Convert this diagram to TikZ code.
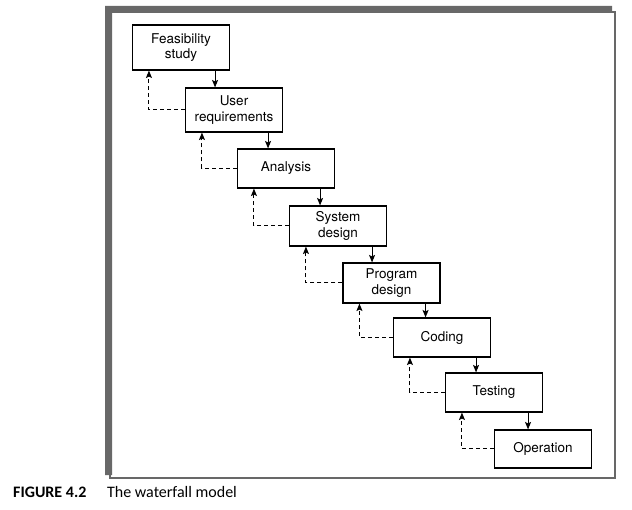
\documentclass[tikz,border=0pt]{standalone}
\usepackage{fontspec}
\setmainfont{TeX Gyre Heros}
\newfontfamily\capfont{Carlito}
\usetikzlibrary{arrows.meta,calc}
\definecolor{framegray}{RGB}{104,104,104}
\tikzset{
  stage/.style={draw=black, line width=1.1pt, rectangle, minimum width=97pt, align=center,
    inner sep=0pt, font=\fontsize{13.5}{15.5}\selectfont},
  flow/.style={line width=1pt, -{Stealth[length=7.5pt,width=6pt,inset=1.5pt]}},
  back/.style={line width=1pt, dash pattern=on 4pt off 3pt, -{Stealth[length=7.5pt,width=6pt,inset=1.5pt]}},
}
\begin{document}
\begin{tikzpicture}[x=1pt,y=-1pt]
\useasboundingbox (0,0) rectangle (632,510);
% frame
\fill[framegray] (105,6) -- (612,6) -- (612,13) -- (112,13) -- (112,475) -- (105,475) -- cycle;
\draw[framegray, line width=2.2pt] (110,12) rectangle (615,478);
% stages
\node[stage, minimum height=45pt] (b1) at (181,47.5) {Feasibility\\study};
\node[stage, minimum height=44pt] (b2) at (234,110) {User\\requirements};
\node[stage, minimum height=39pt] (b3) at (286,168.5) {Analysis};
\node[stage, minimum height=40pt] (b4) at (338,226) {System\\design};
\node[stage, minimum height=40pt] (b5) at (391.5,283) {Program\\design};
\node[stage, minimum height=39pt] (b6) at (442,337.5) {Coding};
\node[stage, minimum height=39pt] (b7) at (494,392.5) {Testing};
\node[stage, minimum height=38pt] (b8) at (543,449) {Operation};
% connectors
\foreach \a/\b in {b1/b2,b2/b3,b3/b4,b4/b5,b5/b6,b6/b7,b7/b8}{
  \draw[flow] ([xshift=-15pt]\a.south east) -- ([xshift=-15pt]\a.south east |- \b.north);
  \draw[back] (\b.west) -| ([xshift=17pt]\a.south west);
}
% caption
\node[anchor=base west, inner sep=0pt, font=\capfont\fontsize{16}{19}\selectfont\bfseries] (fig) at (13,497) {FIGURE 4.2};
\node[anchor=base west, inner sep=0pt, font=\capfont\fontsize{16}{19}\selectfont] (cap) at (107,497) {The waterfall model};
\end{tikzpicture}
\end{document}
